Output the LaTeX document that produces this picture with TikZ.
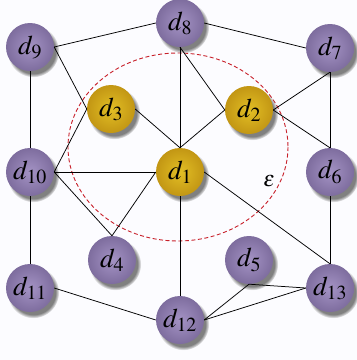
\documentclass[tikz,border=0pt]{standalone}
\usepackage{mathptmx}
\usepackage{tikz}
\usetikzlibrary{shadows}

\definecolor{ballpurple}{HTML}{9480BA}
\definecolor{ballgold}{HTML}{D8A716}
\definecolor{ringred}{HTML}{C8202A}

\tikzset{
  ball/.style={circle, minimum size=48pt, inner sep=0pt, font=\fontsize{27}{30}\selectfont,
    circular drop shadow={shadow xshift=3pt, shadow yshift=-4pt, shadow scale=1.08}},
  purpleball/.style={ball, shading=radial, inner color=ballpurple!85!white, outer color=ballpurple!85!black},
  goldball/.style={ball, shading=radial, inner color=ballgold!80!yellow!92!white, outer color=ballgold!90!black},
  link/.style={black, line width=0.75pt}
}

\begin{document}
\begin{tikzpicture}[x=1pt, y=-1pt]
  \useasboundingbox[fill=blue!1!white] (0,0) rectangle (357,360);
  % range of d1
  \draw[ringred, line width=0.9pt, dash pattern=on 4pt off 2.5pt]
    (178,147) ellipse [x radius=110, y radius=94];
  \node[font=\fontsize{22}{24}\selectfont] (eps) at (269,181) {$\varepsilon$};
  % nodes
  \foreach \n/\x/\y in {1/180/172, 2/249/110, 3/111/109}{
    \node[goldball] (d\n) at (\x,\y) {$d_{\n}$};
  }
  \foreach \n/\x/\y in {4/112/260, 5/249/260, 6/330/172, 7/330/48, 8/180/23,
                        9/30/47, 10/30/172, 11/30/288, 12/180/320, 13/330/288}{
    \node[purpleball] (d\n) at (\x,\y) {$d_{\n}$};
  }
  % links
  \foreach \a/\b in {d9.east/d8.west, d8.east/d7.west, d9.south/d10.north,
                     d9.east/d3.west, d10.east/d3.west, d10.east/d1.west,
                     d10.east/d4.north, d4.north/d1.west, d3.east/d1.north,
                     d8.south/d1.north, d8.south/d2.west, d2.west/d1.north,
                     d7.south/d2.east, d2.east/d6.north, d7.south/d6.north,
                     d6.south/d13.north, d1.east/d13.north, d1.south/d12.north,
                     d10.south/d11.north, d11.east/d12.west, d12.east/d5.south,
                     d12.east/d13.west, d5.south/d13.west}{
    \draw[link] (\a) -- (\b);
  }
\end{tikzpicture}
\end{document}
